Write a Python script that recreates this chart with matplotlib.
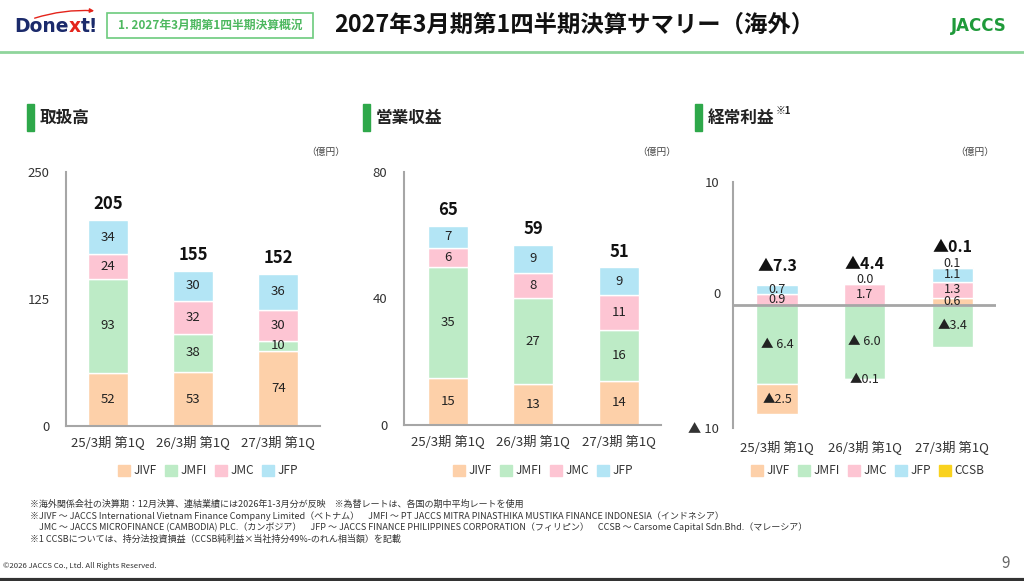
import numpy as np
import matplotlib
matplotlib.use("Agg")
import matplotlib.pyplot as plt
from matplotlib.patches import Rectangle, FancyArrowPatch

plt.rcParams['font.family'] = ['Noto Sans CJK JP', 'DejaVu Sans']

# ---- data ----
categories = ['25/3期 第1Q', '26/3期 第1Q', '27/3期 第1Q']
series = ['JIVF', 'JMFI', 'JMC', 'JFP', 'CCSB']
colors = {'JIVF': '#FDD0A9', 'JMFI': '#BDEBC6', 'JMC': '#FDC5D3',
          'JFP': '#B3E5F5', 'CCSB': '#F9D21E'}

# 取扱高
vol_jivf = [52, 53, 74]
vol_jmfi = [93, 38, 10]
vol_jmc = [24, 32, 30]
vol_jfp = [34, 30, 36]
vol_total = [205, 155, 152]

# 営業収益
rev_jivf = [15, 13, 14]
rev_jmfi = [35, 27, 16]
rev_jmc = [6, 8, 11]
rev_jfp = [7, 9, 9]
rev_total = [65, 59, 51]

# 経常利益
inc_jivf = [-2.5, -0.1, 0.6]
inc_jmfi = [-6.4, -6.0, -3.4]
inc_jmc = [0.9, 1.7, 1.3]
inc_jfp = [0.7, 0.04, 1.1]
inc_ccsb = [0.0, 0.0, 0.1]
inc_total = [-7.3, -4.4, -0.1]
inc_labels = {
    'JIVF': ['▲2.5', '▲0.1', '0.6'],
    'JMFI': ['▲ 6.4', '▲ 6.0', '▲3.4'],
    'JMC': ['0.9', '1.7', '1.3'],
    'JFP': ['0.7', '0.0', '1.1'],
    'CCSB': ['', '', '0.1'],
}

W, H = 1024, 581
fig = plt.figure(figsize=(W / 100, H / 100), dpi=100)
fig.patch.set_facecolor('white')

# background overlay in pixel coords
bg = fig.add_axes([0, 0, 1, 1])
bg.set_xlim(0, W)
bg.set_ylim(H, 0)
bg.axis('off')

txt = '#222222'
green = '#2EA84A'


def px_axes(l, t, r, b):
    return fig.add_axes([l / W, 1 - b / H, (r - l) / W, (b - t) / H])


# ---- header ----
t1 = bg.text(14, 27, 'Done', color='#1B2A6B', fontsize=13.5, fontweight='bold',
             va='center', ha='left', family='DejaVu Sans')
t2 = bg.annotate('x', xy=(1, 0), xycoords=t1, va='bottom', ha='left',
                 color='#E4241B', fontsize=13.5, fontweight='bold', family='DejaVu Sans')
bg.annotate('t!', xy=(1, 0), xycoords=t2, va='bottom', ha='left',
            color='#1B2A6B', fontsize=13.5, fontweight='bold', family='DejaVu Sans')
bg.add_patch(FancyArrowPatch((32, 19), (97, 11), connectionstyle='arc3,rad=-0.1',
                             arrowstyle='-|>', mutation_scale=6, color='#E4241B', lw=1))

bg.add_patch(Rectangle((107, 13), 206, 25, fill=False, edgecolor='#6CCB7D', lw=1.2))
bg.text(210, 25.5, '1. 2027年3月期第1四半期決算概況', color='#4DB85F', fontsize=8.5,
        fontweight='bold', ha='center', va='center')
bg.text(334, 25, '2027年3月期第1四半期決算サマリー（海外）', color='#111111', fontsize=16.8,
        fontweight='bold', ha='left', va='center')
bg.text(1007, 26, 'JACCS', color='#1F9A3A', fontsize=12, fontweight='bold',
        ha='right', va='center', family='DejaVu Sans')
bg.plot([0, W], [52, 52], color='#8FD59C', lw=2)
bg.plot([0, W], [580, 580], color='#333333', lw=3)

# section titles
for bx, tx, label in [(27, 40, '取扱高'), (363, 376, '営業収益'), (695, 708, '経常利益')]:
    bg.add_patch(Rectangle((bx, 104), 7, 27, color=green))
    bg.text(tx, 118, label, fontsize=12, fontweight='bold', color=txt, va='center')
bg.text(776, 111, '※1', fontsize=7, fontweight='bold', color=txt, va='center')

for x in [345, 676, 994]:
    bg.text(x, 152, '（億円）', fontsize=7, color='#444444', ha='right', va='center')


def style_axes(ax):
    for s in ['top', 'right']:
        ax.spines[s].set_visible(False)
    ax.spines['left'].set_color('#A6A6A6')
    ax.spines['bottom'].set_color('#A6A6A6')
    ax.spines['left'].set_linewidth(1.5)
    ax.spines['bottom'].set_linewidth(1.5)
    ax.tick_params(axis='both', length=0, labelsize=9.5, labelcolor='#333333')
    ax.tick_params(axis='y', pad=12)
    ax.tick_params(axis='x', pad=7)
    ax.set_facecolor('none')


def stacked(ax, data, totals, ymax, ticks, xlim):
    x = np.arange(len(categories))
    bottom = np.zeros(len(categories))
    for name, vals in data:
        vals = np.array(vals, dtype=float)
        ax.bar(x, vals, 0.47, bottom=bottom, color=colors[name], edgecolor='white', lw=1)
        for i, v in enumerate(vals):
            ax.text(x[i], bottom[i] + v / 2, f'{v:g}', ha='center', va='center',
                    fontsize=9.5, color=txt)
        bottom += vals
    for i, t in enumerate(totals):
        ax.annotate(str(t), (x[i], bottom[i]), xytext=(0, 11), textcoords='offset points',
                    ha='center', va='center', fontsize=12, fontweight='bold', color='#111111')
    ax.set_ylim(0, ymax)
    ax.set_xlim(*xlim)
    ax.set_yticks(ticks)
    ax.set_xticks(x)
    ax.set_xticklabels(categories)
    style_axes(ax)


ax1 = px_axes(66, 172, 320, 426)
stacked(ax1, [('JIVF', vol_jivf), ('JMFI', vol_jmfi), ('JMC', vol_jmc), ('JFP', vol_jfp)],
        vol_total, 250, [0, 125, 250], (-0.49, 2.49))

ax2 = px_axes(404, 172, 661, 425)
stacked(ax2, [('JIVF', rev_jivf), ('JMFI', rev_jmfi), ('JMC', rev_jmc), ('JFP', rev_jfp)],
        rev_total, 80, [0, 40, 80], (-0.51, 2.49))

# ---- 経常利益 ----
ax3 = px_axes(733, 182, 996, 428)
x = np.arange(len(categories))
pos_b = np.zeros(3)
neg_b = np.zeros(3)
# negatives stack downward from zero: JMFI first, then JIVF
order = [('JMFI', inc_jmfi), ('JIVF', inc_jivf), ('JMC', inc_jmc), ('JFP', inc_jfp),
         ('CCSB', inc_ccsb)]
for name, vals in order:
    for i, v in enumerate(vals):
        if v == 0:
            continue
        if v > 0:
            b = pos_b[i]
            pos_b[i] += v
        else:
            b = neg_b[i]
            neg_b[i] += v
        ax3.bar(x[i], v, 0.47, bottom=b, color=colors[name], edgecolor='white', lw=1)
        lab = inc_labels[name][i]
        if 0 < v < 0.2:
            y = b + v + 0.3
        else:
            y = b + v / 2
        ax3.text(x[i], y, lab, ha='center', va='center', fontsize=9, color=txt)
for i, t in enumerate(inc_total):
    ax3.annotate(f'▲{abs(t):.1f}', (x[i], pos_b[i]), xytext=(0, 14), textcoords='offset points',
                 ha='center', va='center', fontsize=11.5, fontweight='bold', color='#111111')
ax3.axhline(0, color='#A6A6A6', lw=2)
ax3.set_ylim(-10, 10)
ax3.set_xlim(-0.503, 2.497)
ax3.set_yticks([10, -10])
ax3.set_yticklabels(['10', '▲ 10'])
ax3.set_xticks(x)
ax3.set_xticklabels(categories)
style_axes(ax3)
ax3.spines['bottom'].set_visible(False)
ax3.tick_params(axis='x', pad=9)
ax3.tick_params(axis='y', pad=10)
bg.text(721, 295, '0', fontsize=9.5, color='#333333', ha='right', va='center')

# legends
for cx, names in [(208, series[:4]), (543, series[:4]), (868, series)]:
    handles = [Rectangle((0, 0), 1, 1, color=colors[n]) for n in names]
    fig.legend(handles, names, loc='center', bbox_to_anchor=(cx / W, 1 - 471 / H),
               ncol=len(names), frameon=False, fontsize=8.5, handlelength=1.0,
               handleheight=1.0, handletextpad=0.3, columnspacing=0.7, labelcolor='#333333')

# footnotes
notes = [
    '※海外関係会社の決算期：12月決算、連結業績には2026年1-3月分が反映　※為替レートは、各国の期中平均レートを使用',
    '※JIVF ～ JACCS International Vietnam Finance Company Limited（ベトナム）　JMFI ～ PT JACCS MITRA PINASTHIKA MUSTIKA FINANCE INDONESIA（インドネシア）',
    '　JMC ～ JACCS MICROFINANCE (CAMBODIA) PLC.（カンボジア）　JFP ～ JACCS FINANCE PHILIPPINES CORPORATION（フィリピン）　CCSB ～ Carsome Capital Sdn.Bhd.（マレーシア）',
    '※1 CCSBについては、持分法投資損益（CCSB純利益×当社持分49%-のれん相当額）を記載',
]
for k, n in enumerate(notes):
    bg.text(30, 504 + k * 11.7, n, fontsize=6.5, color='#333333', va='center')
bg.text(3, 566, '©2026 JACCS Co., Ltd. All Rights Reserved.', fontsize=5.6, color='#333333',
        va='center')
bg.text(1010, 563, '9', fontsize=11, color='#666666', ha='right', va='center')

fig.savefig('out.png', dpi=100, facecolor='white')
